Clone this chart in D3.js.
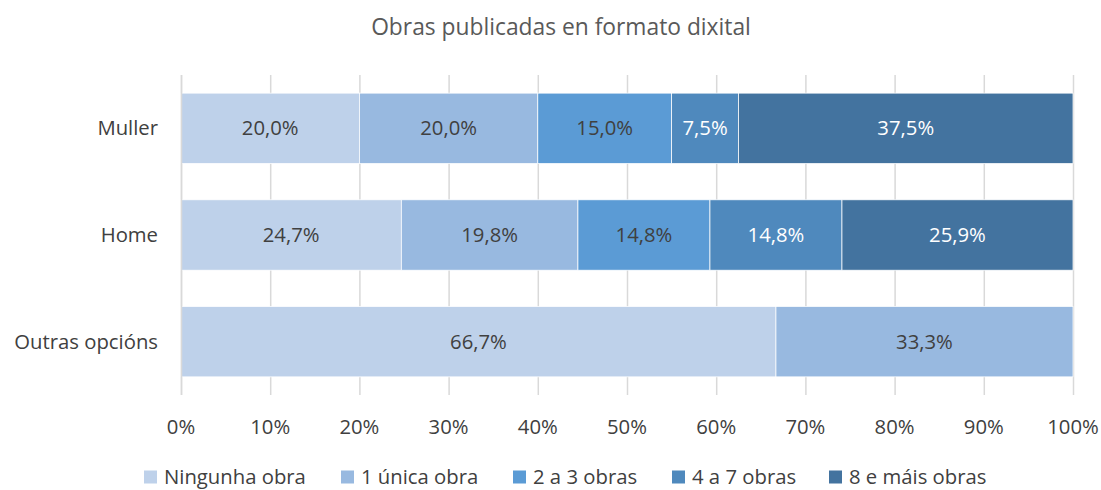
<!DOCTYPE html>
<html><head><meta charset="utf-8">
<script src="https://cdn.jsdelivr.net/npm/d3@7"></script>
<style>body{margin:0;background:#fff;} text{font-family:"Open Sans", sans-serif;}</style>
</head><body>
<svg id="c" width="1101" height="490"></svg>
<script>
const categories = ["Muller", "Home", "Outras opcións"];
const seriesNames = ["Ningunha obra", "1 única obra", "2 a 3 obras", "4 a 7 obras", "8 e máis obras"];
const ningunha = [20.0, 24.7, 66.7];
const unica = [20.0, 19.8, 33.3];
const dous3 = [15.0, 14.8, 0];
const catro7 = [7.5, 14.8, 0];
const oito = [37.5, 25.9, 0];
const xTicks = [0,10,20,30,40,50,60,70,80,90,100];
const colors = ["#bed1ea", "#98b9e0", "#5b9bd5", "#4f89bd", "#43739f"];
const labelColors = ["#404040", "#404040", "#404040", "#ffffff", "#ffffff"];

const seriesValues = [ningunha, unica, dous3, catro7, oito];
const rows = categories.map((c,i)=>{const o={cat:c}; seriesNames.forEach((s,j)=>o[s]=seriesValues[j][i]); return o;});
const stack = d3.stack().keys(seriesNames)(rows);

const svg = d3.select("#c");
const m = {left:181, right:1073, top:75, bottom:395};
const x = d3.scaleLinear().domain([0,100]).range([m.left, m.right]);
const y = d3.scaleBand().domain(categories).range([m.top, m.bottom]).paddingInner(0.34).paddingOuter(0.17);
const FS = 20.3;

svg.append("text").attr("x",561).attr("y",35).attr("text-anchor","middle")
  .attr("font-size",22.8).attr("fill","#595959").text("Obras publicadas en formato dixital");

// gridlines
svg.append("g").selectAll("line").data(xTicks).join("line")
  .attr("x1",d=>x(d)+0.5).attr("x2",d=>x(d)+0.5).attr("y1",m.top).attr("y2",m.bottom)
  .attr("stroke","#d9d9d9").attr("stroke-width",1.5);

// bars
const g = svg.append("g");
stack.forEach((s,j)=>{
  g.selectAll(null).data(s).join("rect")
    .attr("x",d=>x(d[0])).attr("width",d=>Math.max(0,x(d[1])-x(d[0])))
    .attr("y",d=>y(d.data.cat)).attr("height",y.bandwidth())
    .attr("fill",colors[j]).attr("stroke","#ffffff").attr("stroke-width",0.75);
  g.selectAll(null).data(s.filter(d=>d[1]-d[0]>0)).join("text")
    .attr("x",d=>x((d[0]+d[1])/2)).attr("y",d=>y(d.data.cat)+y.bandwidth()/2)
    .attr("dy","0.35em").attr("text-anchor","middle").attr("font-size",FS)
    .attr("fill",labelColors[j]).text(d=>(d[1]-d[0]).toFixed(1).replace(".",",")+"%");
});

// left axis line
svg.append("line").attr("x1",m.left+0.5).attr("x2",m.left+0.5).attr("y1",m.top).attr("y2",m.bottom)
  .attr("stroke","#d9d9d9").attr("stroke-width",1.5);

// category labels
svg.append("g").selectAll("text").data(categories).join("text")
  .attr("x",158).attr("y",d=>y(d)+y.bandwidth()/2).attr("dy","0.35em")
  .attr("text-anchor","end").attr("font-size",FS).attr("fill","#404040").text(d=>d);

// x tick labels
svg.append("g").selectAll("text").data(xTicks).join("text")
  .attr("x",d=>x(d)).attr("y",427).attr("dy","0.35em").attr("text-anchor","middle")
  .attr("font-size",FS).attr("fill","#404040").text(d=>d+"%");

// legend
const legX = [144, 341, 513, 672, 829];
const leg = svg.append("g").selectAll("g").data(seriesNames).join("g")
  .attr("transform",(d,i)=>`translate(${legX[i]},477)`);
leg.append("rect").attr("x",0).attr("y",-6.5).attr("width",13).attr("height",13).attr("fill",(d,i)=>colors[i]);
leg.append("text").attr("x",20).attr("y",0).attr("dy","0.35em").attr("font-size",FS).attr("fill","#404040").text(d=>d);
</script>
</body></html>
